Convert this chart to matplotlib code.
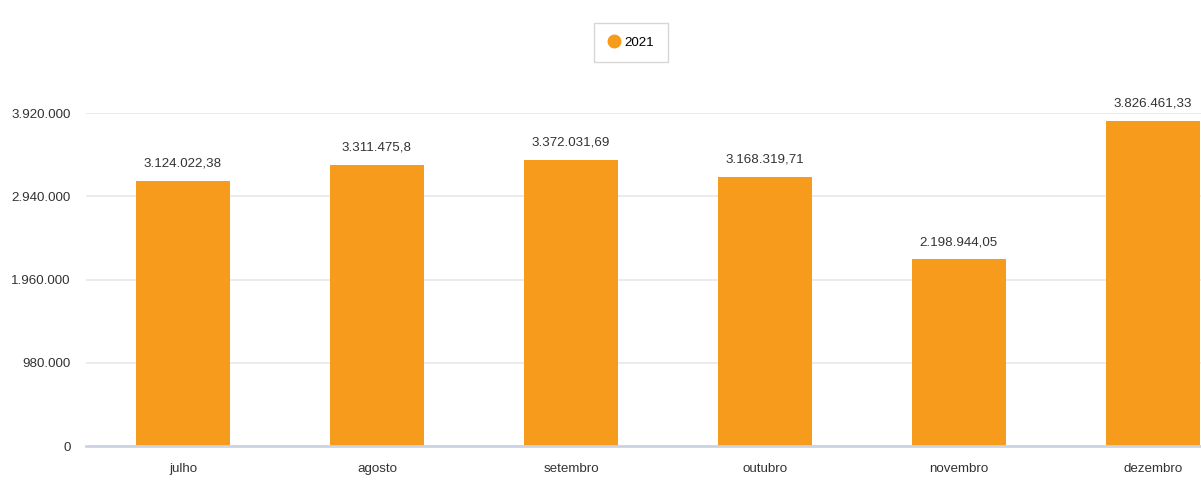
import matplotlib.pyplot as plt
from matplotlib.lines import Line2D
from matplotlib.ticker import FuncFormatter

months = ["julho", "agosto", "setembro", "outubro", "novembro", "dezembro"]
values_2021 = [3124022.38, 3311475.8, 3372031.69, 3168319.71, 2198944.05, 3826461.33]
y_ticks = [0, 980000, 1960000, 2940000, 3920000]

BAR_COLOR = "#F79B1D"
TEXT_COLOR = "#333333"
FONT_SIZE = 9.6

plt.rcParams["font.family"] = ["Liberation Sans", "DejaVu Sans"]


def br_number(value, decimals=2):
    text = f"{value:,.{decimals}f}"
    if decimals:
        text = text.rstrip("0").rstrip(".")
    return text.replace(",", "X").replace(".", ",").replace("X", ".")


W, H = 1201, 486
fig = plt.figure(figsize=(W / 100, H / 100), dpi=100)

# axes extends past the right edge, like the cropped original
left, right, bottom, top = 86, 1250, 446, 113
ax = fig.add_axes([left / W, 1 - bottom / H, (right - left) / W, (bottom - top) / H])

x = range(len(months))
ax.bar(x, values_2021, width=0.485, color=BAR_COLOR, zorder=3)

for xi, v in zip(x, values_2021):
    ax.annotate(
        br_number(v),
        (xi, v),
        xytext=(0, 8),
        textcoords="offset points",
        ha="center",
        va="bottom",
        fontsize=FONT_SIZE,
        color=TEXT_COLOR,
        clip_on=False,
    )

ax.set_xlim(-0.5, len(months) - 0.5)
ax.set_ylim(0, y_ticks[-1])
ax.set_yticks(y_ticks)
ax.yaxis.set_major_formatter(FuncFormatter(lambda v, _: br_number(v, 0)))
ax.set_xticks(list(x))
ax.set_xticklabels(months)

ax.grid(axis="y", color="#E8E8E8", linewidth=1.2, zorder=0)
ax.tick_params(axis="both", length=0, labelsize=FONT_SIZE, colors=TEXT_COLOR)
ax.tick_params(axis="y", pad=11)
ax.tick_params(axis="x", pad=12)

for side in ["top", "right", "left"]:
    ax.spines[side].set_visible(False)
ax.spines["bottom"].set_color("#CCD3E3")
ax.spines["bottom"].set_linewidth(2)
ax.spines["bottom"].set_zorder(4)

handle = Line2D([], [], marker="o", linestyle="", markersize=9,
                markerfacecolor=BAR_COLOR, markeredgecolor=BAR_COLOR)
fig.legend(
    [handle],
    ["2021"],
    loc="center",
    bbox_to_anchor=(631 / W, 1 - 43 / H),
    frameon=True,
    fancybox=False,
    shadow=False,
    edgecolor="#CCCCCC",
    fontsize=FONT_SIZE,
    handletextpad=0.3,
    borderpad=1.0,
    handlelength=1.0,
)

fig.savefig("out.png", dpi=100)
